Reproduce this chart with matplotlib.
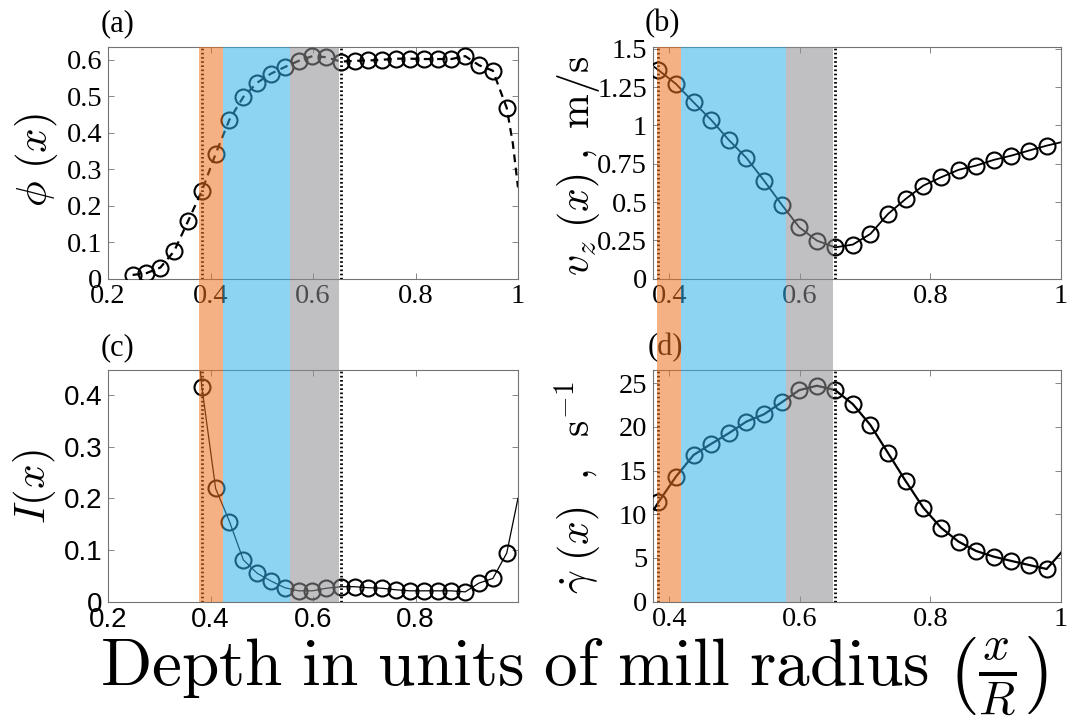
import matplotlib
matplotlib.use('Agg')
import matplotlib.pyplot as plt
from matplotlib.transforms import blended_transform_factory
from matplotlib.patches import Rectangle
from matplotlib.ticker import FuncFormatter

plt.rcParams['mathtext.fontset'] = 'cm'
plt.rcParams['font.family'] = ['Liberation Serif', 'DejaVu Serif']

# ---------------- data ----------------
x_a = [0.248, 0.275, 0.302, 0.329, 0.356, 0.383, 0.410, 0.437, 0.464, 0.491,
       0.518, 0.545, 0.572, 0.599, 0.626, 0.654, 0.681, 0.708, 0.735, 0.762,
       0.789, 0.816, 0.843, 0.870, 0.897, 0.924, 0.951, 0.978]
phi = [0.010, 0.015, 0.030, 0.075, 0.157, 0.240, 0.342, 0.436, 0.498, 0.537,
       0.562, 0.580, 0.597, 0.610, 0.607, 0.595, 0.597, 0.598, 0.600, 0.603,
       0.603, 0.602, 0.602, 0.602, 0.610, 0.585, 0.570, 0.468]
phi_tail_x = [0.99, 1.0]
phi_tail_y = [0.37, 0.25]

x_bcd = [0.383, 0.410, 0.437, 0.464, 0.491, 0.518, 0.545, 0.572, 0.599, 0.626,
         0.654, 0.681, 0.708, 0.735, 0.762, 0.789, 0.816, 0.843, 0.870, 0.897,
         0.924, 0.951, 0.978]
vz = [1.362, 1.271, 1.151, 1.036, 0.905, 0.788, 0.640, 0.483, 0.335, 0.248,
      0.204, 0.222, 0.292, 0.422, 0.520, 0.607, 0.661, 0.710, 0.738, 0.775,
      0.803, 0.836, 0.868]
vz_head = (0.3744, 1.39)
vz_tail = (1.0, 0.89)

inertia = [0.416, 0.219, 0.155, 0.081, 0.055, 0.040, 0.027, 0.021, 0.021, 0.026,
           0.029, 0.029, 0.027, 0.026, 0.023, 0.021, 0.021, 0.021, 0.021, 0.019,
           0.036, 0.045, 0.094]
inertia_head = (0.378, 0.47)
inertia_tail = (1.0, 0.20)

gamma = [11.37, 14.30, 16.78, 18.05, 19.27, 20.6, 21.44, 22.8, 24.2, 24.7,
         24.2, 22.6, 20.2, 17.0, 13.8, 10.75, 8.47, 6.87, 5.8, 5.15,
         4.66, 4.2, 3.74]
gamma_head = (0.3744, 10.3)
gamma_tail = (1.0, 5.6)

# region boundaries (x/R)
bands_left = [0.378, 0.425, 0.555, 0.651]
bands_right = [0.381, 0.417, 0.579, 0.650]
dotted = [0.383, 0.654]

band_colors = ['#EB711E', '#30AFE9', '#8D8D90']

# ---------------- figure ----------------
W, H = 1073, 719
fig = plt.figure(figsize=(W / 100, H / 100), dpi=100)


def box(l, r, t, b):
    return [l / W, 1 - b / H, (r - l) / W, (b - t) / H]


ax_a = fig.add_axes(box(108, 518, 47, 278.6))
ax_b = fig.add_axes(box(652.7, 1061, 47.3, 278.6))
ax_c = fig.add_axes(box(108, 518, 370, 601.7))
ax_d = fig.add_axes(box(652.7, 1061, 370, 601.7))

mk = dict(marker='o', ms=11.5, mfc='none', mec='black', mew=1.5, ls='none', zorder=3)

ax_a.plot(x_a + phi_tail_x, phi + phi_tail_y, color='black', lw=1.6,
          ls=(0, (3.5, 2.5)), zorder=2)
ax_a.plot(x_a, phi, **mk)

ax_b.plot([vz_head[0]] + x_bcd + [vz_tail[0]], [vz_head[1]] + vz + [vz_tail[1]],
          color='black', lw=1.3, zorder=2)
ax_b.plot(x_bcd, vz, **mk)

ax_c.plot([inertia_head[0]] + x_bcd + [inertia_tail[0]],
          [inertia_head[1]] + inertia + [inertia_tail[1]],
          color='black', lw=0.9, zorder=2)
ax_c.plot(x_bcd, inertia, **mk)

ax_d.plot([gamma_head[0]] + x_bcd + [gamma_tail[0]],
          [gamma_head[1]] + gamma + [gamma_tail[1]],
          color='black', lw=1.6, zorder=2)
ax_d.plot(x_bcd, gamma, **mk)

fmt = FuncFormatter(lambda v, p: f"{v:g}")

ax_a.set_xlim(0.2, 1.0)
ax_a.set_ylim(0, 0.635)
ax_a.set_xticks([0.2, 0.4, 0.6, 0.8, 1.0])
ax_a.set_yticks([0, 0.1, 0.2, 0.3, 0.4, 0.5, 0.6])

ax_b.set_xlim(0.3744, 1.0)
ax_b.set_ylim(0, 1.51)
ax_b.set_xticks([0.4, 0.6, 0.8, 1.0])
ax_b.set_yticks([0, 0.25, 0.5, 0.75, 1, 1.25, 1.5])

ax_c.set_xlim(0.2, 1.0)
ax_c.set_ylim(0, 0.448)
ax_c.set_xticks([0.2, 0.4, 0.6, 0.8])
ax_c.set_yticks([0, 0.1, 0.2, 0.3, 0.4])

ax_d.set_xlim(0.3744, 1.0)
ax_d.set_ylim(0, 26.5)
ax_d.set_xticks([0.4, 0.6, 0.8, 1.0])
ax_d.set_yticks([0, 5, 10, 15, 20, 25])

for ax in (ax_a, ax_b, ax_c, ax_d):
    ax.xaxis.set_major_formatter(fmt)
    ax.yaxis.set_major_formatter(fmt)
    ax.tick_params(direction='in', length=4, width=0.6, color='0.45',
                   top=True, right=True, labelsize=20.5, pad=4)
    for s in ax.spines.values():
        s.set_color('0.45')
        s.set_linewidth(0.8)
    for xv in dotted:
        ax.axvline(xv, color='black', lw=2.0, ls=(0, (0.6, 0.9)), zorder=4)

for lab in ax_c.get_xticklabels() + ax_c.get_yticklabels():
    lab.set_fontfamily(['Liberation Sans', 'DejaVu Sans'])
    lab.set_fontsize(20)

# translucent region bands spanning both panels of a column
for ax_top, bounds in ((ax_a, bands_left), (ax_b, bands_right)):
    tr = blended_transform_factory(ax_top.transData, fig.transFigure)
    y0 = 1 - 601.7 / H
    y1 = 1 - 47 / H
    for i, c in enumerate(band_colors):
        rect = Rectangle((bounds[i], y0), bounds[i + 1] - bounds[i], y1 - y0,
                         transform=tr, facecolor=c, alpha=0.55,
                         edgecolor='none', zorder=5)
        fig.add_artist(rect)

# panel letters
fig.text(101 / W, 1 - 24 / H, '(a)', fontsize=22, ha='left', va='center')
fig.text(645 / W, 1 - 24 / H, '(b)', fontsize=22, ha='left', va='center')
fig.text(101 / W, 1 - 348 / H, '(c)', fontsize=22, ha='left', va='center')
fig.text(648 / W, 1 - 348 / H, '(d)', fontsize=22, ha='left', va='center')

# y labels
fig.text(37 / W, 1 - 160 / H, r'$\phi\ (x)$', fontsize=31, rotation=90,
         ha='center', va='center')
fig.text(578 / W, 1 - 166 / H, r'$v_z\ (x)\ ,\ \mathrm{m/s}$', fontsize=30,
         rotation=90, ha='center', va='center')
fig.text(35 / W, 1 - 487 / H, r'$I(x)$', fontsize=31, rotation=90,
         ha='center', va='center')
fig.text(578 / W, 1 - 488 / H, r'$\dot{\gamma}\ (x)\ \ ,\ \ \mathrm{s}^{-1}$',
         fontsize=30, rotation=90, ha='center', va='center')

# common x label
fig.text(574 / W, 1 - 677 / H,
         r'$\mathrm{Depth\ in\ units\ of\ mill\ radius}\ \left(\frac{x}{R}\right)$',
         fontsize=48.5, ha='center', va='center')

fig.savefig('out.png', dpi=100)
